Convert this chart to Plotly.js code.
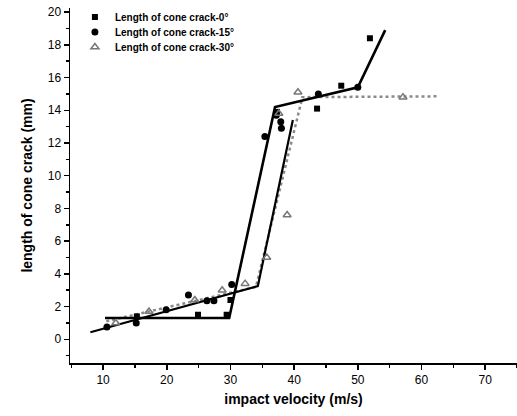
<!DOCTYPE html>
<html>
<head>
<meta charset="utf-8">
<script src="https://cdn.plot.ly/plotly-3.0.1.min.js"></script>
<style>html,body{margin:0;padding:0;background:#fff;}#chart{width:517px;height:416px;}</style>
</head>
<body>
<div id="chart"></div>
<script>
// measured points
const v0 = [15.3, 24.9, 29.4, 30.0, 37.3, 43.6, 47.4, 51.9];
const L0 = [1.4, 1.5, 1.5, 2.4, 13.9, 14.1, 15.5, 18.4];
const v15 = [10.6, 15.2, 19.9, 23.4, 26.3, 27.4, 30.2, 35.4, 37.2, 37.9, 38.0, 43.8, 50.0];
const L15 = [0.75, 1.0, 1.8, 2.7, 2.35, 2.35, 3.35, 12.4, 13.7, 13.3, 12.9, 15.0, 15.4];
const v30 = [12.0, 17.2, 24.4, 28.7, 32.3, 35.7, 37.6, 38.9, 40.6, 57.1];
const L30 = [1.0, 1.7, 2.4, 3.0, 3.4, 5.0, 13.8, 7.6, 15.1, 14.8];
// fitted lines
const fit0v = [10.3, 29.8, 37.0, 50.0, 54.3];
const fit0L = [1.3, 1.3, 14.2, 15.4, 18.9];
const fit15v = [8.0, 34.3, 39.8];
const fit15L = [0.43, 3.25, 13.4];
const fit30v = [10.5, 34.0, 41.3, 62.6];
const fit30L = [1.1, 3.2, 14.8, 14.85];
const xTicks = [10, 20, 30, 40, 50, 60, 70];
const yTicks = [0, 2, 4, 6, 8, 10, 12, 14, 16, 18, 20];
const names = ['Length of cone crack-0°', 'Length of cone crack-15°', 'Length of cone crack-30°'];

const traces = [
  {x: fit30v, y: fit30L, mode: 'lines', line: {color: '#8a8a8a', width: 2.5, dash: 'dot'}, showlegend: false, hoverinfo: 'skip'},
  {x: fit15v, y: fit15L, mode: 'lines', line: {color: '#000', width: 2.2}, showlegend: false, hoverinfo: 'skip'},
  {x: fit0v, y: fit0L, mode: 'lines', line: {color: '#000', width: 2.6}, showlegend: false, hoverinfo: 'skip'},
  {x: v0, y: L0, mode: 'markers', legend: 'legend', name: '<b>' + names[0] + '</b>', marker: {symbol: 'square', size: 6, color: '#000'}},
  {x: v15, y: L15, mode: 'markers', legend: 'legend2', name: '<b>' + names[1] + '</b>', marker: {symbol: 'circle', size: 7, color: '#000'}},
  {x: v30, y: L30, mode: 'markers', legend: 'legend3', name: '<b>' + names[2] + '</b>', marker: {symbol: 'triangle-up-open', size: 7, color: '#777', line: {width: 1.5, color: '#777'}}}
];

function leg(y) {
  return {x: 0.011, y: y, xanchor: 'left', yanchor: 'middle', bgcolor: 'rgba(0,0,0,0)',
          font: {size: 10, family: 'Liberation Sans, Arial, sans-serif'}};
}

const layout = {
  width: 517, height: 416,
  margin: {l: 70, r: 0, t: 8, b: 53},
  paper_bgcolor: '#fff', plot_bgcolor: '#fff',
  font: {family: 'Liberation Sans, Arial, sans-serif', color: '#000'},
  showlegend: true,
  legend: leg(0.9746),
  legend2: leg(0.9324),
  legend3: leg(0.890),
  xaxis: {
    range: [4.8, 75], tickvals: xTicks, ticktext: xTicks.map(String),
    ticks: 'outside', ticklen: 5, tickwidth: 1.5, tickcolor: '#000',
    minor: {dtick: 5, tick0: 0, ticks: 'outside', ticklen: 3, tickwidth: 1.5, tickcolor: '#000'},
    showline: true, linecolor: '#000', linewidth: 1.5, showgrid: false, zeroline: false,
    tickfont: {size: 12},
    title: {text: '<b>impact velocity (m/s)</b>', font: {size: 14}, standoff: 8}
  },
  yaxis: {
    range: [-1.45, 20.25], tickvals: yTicks, ticktext: yTicks.map(String),
    ticks: 'outside', ticklen: 5, tickwidth: 1.5, tickcolor: '#000',
    minor: {dtick: 1, tick0: 0, ticks: 'outside', ticklen: 3, tickwidth: 1.5, tickcolor: '#000'},
    showline: true, linecolor: '#000', linewidth: 1.5, showgrid: false, zeroline: false,
    tickfont: {size: 12},
    title: {text: '<b>length of cone crack (mm)</b>', font: {size: 14}, standoff: 12}
  }
};
Plotly.newPlot('chart', traces, layout, {displayModeBar: false, staticPlot: true});
</script>
</body>
</html>
